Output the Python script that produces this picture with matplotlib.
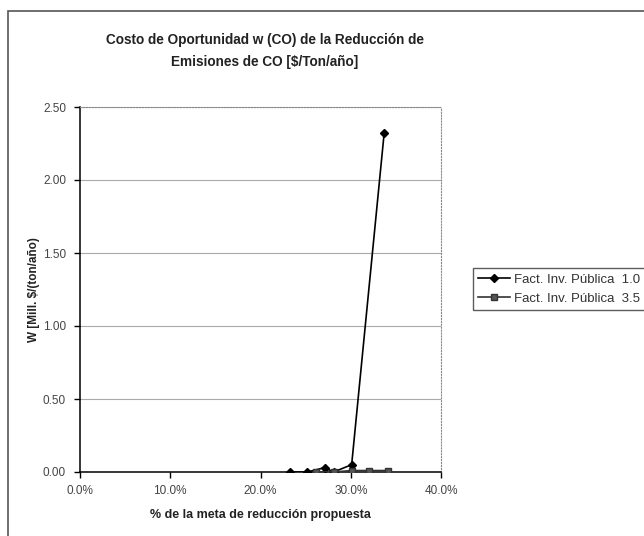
import matplotlib
matplotlib.use("Agg")
import matplotlib.pyplot as plt
from matplotlib.patches import Rectangle
from matplotlib.ticker import FuncFormatter, MultipleLocator

plt.rcParams['font.family'] = ['Liberation Sans', 'DejaVu Sans']

# % de la meta de reduccion y costo w (Mill. $/(ton/año))
meta_f10 = [23.3, 25.2, 27.1, 28.1, 30.1, 33.7]
w_f10 = [0.00, 0.00, 0.03, 0.00, 0.05, 2.32]
meta_f35 = [26.1, 28.1, 30.1, 32.0, 34.1]
w_f35 = [0.00, 0.00, 0.01, 0.01, 0.01]
series_labels = ['Fact. Inv. Pública  1.0', 'Fact. Inv. Pública  3.5']

fig = plt.figure(figsize=(6.44, 5.36), dpi=100)

# marco exterior del grafico
fig.patches.append(Rectangle((8 / 644, -0.01), 1.0, 1 - 11 / 536 + 0.01,
                             transform=fig.transFigure, fill=False,
                             edgecolor='#555555', linewidth=1.2))

ax = fig.add_axes([80 / 644, 1 - 472 / 536, 361 / 644, 365 / 536])

ax.plot(meta_f10, w_f10, color='black', linewidth=1.2, marker='D',
        markersize=4, label=series_labels[0], zorder=3)
ax.plot(meta_f35, w_f35, color='#333333', linewidth=1.2, marker='s',
        markersize=4, markerfacecolor='#555555', markeredgecolor='#333333',
        label=series_labels[1], zorder=3)

ax.set_xlim(0, 40)
ax.set_ylim(0, 2.5)
ax.xaxis.set_major_locator(MultipleLocator(10))
ax.yaxis.set_major_locator(MultipleLocator(0.5))
ax.xaxis.set_major_formatter(FuncFormatter(lambda v, p: f'{v:.1f}%'))
ax.yaxis.set_major_formatter(FuncFormatter(lambda v, p: f'{v:.2f}'))
ax.tick_params(direction='out', length=4, width=1, labelsize=8.5,
               labelcolor='#444444', color='black')
ax.tick_params(axis='x', pad=5)
ax.tick_params(axis='y', pad=6)

ax.grid(axis='y', color='#aaaaaa', linewidth=0.8)
ax.set_axisbelow(True)
for side in ['top', 'right']:
    ax.spines[side].set_linestyle(':')
    ax.spines[side].set_color('#888888')
for side in ['left', 'bottom']:
    ax.spines[side].set_color('black')
    ax.spines[side].set_linewidth(1.1)

ax.set_xlabel('% de la meta de reducción propuesta', fontsize=9,
              fontweight='bold', labelpad=9, color='#222222')
ax.set_ylabel('W [Mill. $/(ton/año)', fontsize=8.5, fontweight='bold',
              labelpad=0, color='#222222')
ax.yaxis.set_label_coords(-40 / 361, 0.5)

fig.text(265 / 644, 1 - 40 / 536,
         'Costo de Oportunidad w (CO) de la Reducción de',
         ha='center', va='center', fontsize=9.8, fontweight='bold', color='#222222')
fig.text(265 / 644, 1 - 62 / 536, 'Emisiones de CO [$/Ton/año]',
         ha='center', va='center', fontsize=9.8, fontweight='bold', color='#222222')

leg = fig.legend(loc='upper left', bbox_to_anchor=(473 / 644, 1 - 268 / 536),
                 borderaxespad=0, fontsize=9.5, frameon=True, fancybox=False,
                 handlelength=2.4, handletextpad=0.3, borderpad=0.4,
                 labelspacing=0.55)
leg.get_frame().set_edgecolor('#333333')
leg.get_frame().set_linewidth(1)
for t in leg.get_texts():
    t.set_color('#333333')

fig.savefig('out.png', dpi=100)
